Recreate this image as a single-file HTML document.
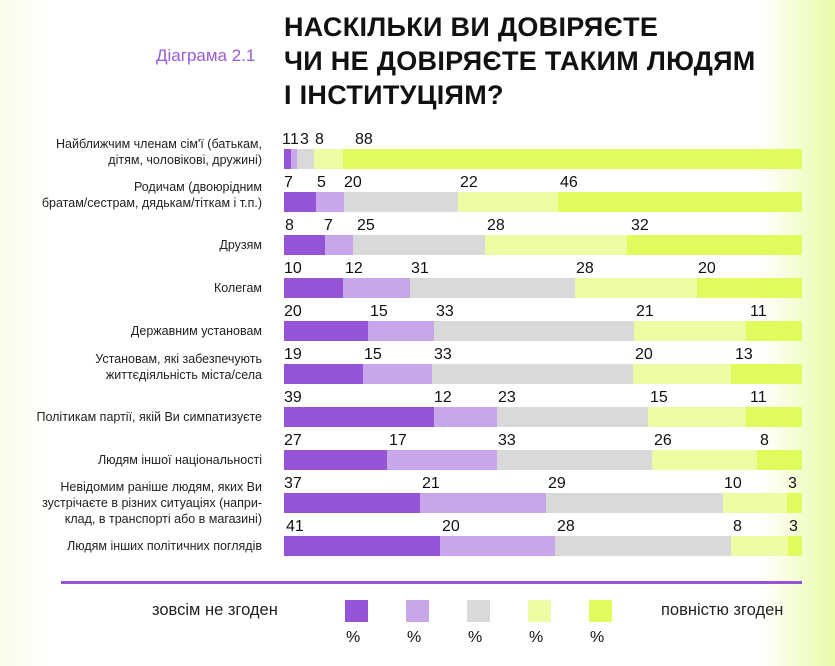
<!DOCTYPE html>
<html><head><meta charset="utf-8"><style>
*{margin:0;padding:0;box-sizing:border-box}
body{width:835px;height:666px;position:relative;overflow:hidden;font-family:"Liberation Sans","DejaVu Sans",sans-serif;
background:linear-gradient(90deg,#f9fce8 0px,#ffffff 50px,#ffffff 760px,#e9fca8 835px);}
.t{position:absolute;left:284px;font-weight:bold;font-size:27px;color:#111;line-height:34px;top:10px;letter-spacing:0.3px}
.d{position:absolute;left:156px;top:46px;font-size:17px;color:#9a5ad8}
.lab{position:absolute;right:573px;font-size:12.5px;color:#222;text-align:right;line-height:16px;white-space:nowrap}
.s{position:absolute;height:20px}
.n{position:absolute;font-size:16px;color:#111;line-height:16px}
.c1{background:#9553d7}.c2{background:#c7a6e9}.c3{background:#d9d9d9}.c4{background:#effba3}.c5{background:#dffb5c}
.sq{position:absolute;top:600px;width:23px;height:22px}
.p{position:absolute;top:629px;font-size:16px;color:#111}
</style></head><body>
<div class="d">Діаграма 2.1</div>
<div class="t">НАСКІЛЬКИ ВИ ДОВІРЯЄТЕ<br>ЧИ НЕ ДОВІРЯЄТЕ ТАКИМ ЛЮДЯМ<br>І ІНСТИТУЦІЯМ?</div>

<div class="lab" style="top:136px">Найближчим членам сім'ї (батькам,<br>дітям, чоловікові, дружині)</div>
<div class="lab" style="top:179px">Родичам (двоюрідним<br>братам/сестрам, дядькам/тіткам і т.п.)</div>
<div class="lab" style="top:237px">Друзям</div>
<div class="lab" style="top:280px">Колегам</div>
<div class="lab" style="top:323px">Державним установам</div>
<div class="lab" style="top:351px">Установам, які забезпечують<br>життєдіяльність міста/села</div>
<div class="lab" style="top:409px">Політикам партії, якій Ви симпатизуєте</div>
<div class="lab" style="top:452px">Людям іншої національності</div>
<div class="lab" style="top:479px">Невідомим раніше людям, яких Ви<br>зустрічаєте в різних ситуаціях (напри-<br>клад, в транспорті або в магазині)</div>
<div class="lab" style="top:538px">Людям інших політичних поглядів</div>

<div class="s c1" style="top:149px;left:284px;width:7px"></div><div class="s c2" style="top:149px;left:291px;width:6px"></div><div class="s c3" style="top:149px;left:297px;width:17px"></div><div class="s c4" style="top:149px;left:314px;width:29px"></div><div class="s c5" style="top:149px;left:343px;width:459px"></div>
<div class="n" style="top:132px;left:282px">1</div><div class="n" style="top:132px;left:290px">1</div><div class="n" style="top:132px;left:300px">3</div><div class="n" style="top:132px;left:315px">8</div><div class="n" style="top:132px;left:355px">88</div>

<div class="s c1" style="top:192px;left:284px;width:32px"></div><div class="s c2" style="top:192px;left:316px;width:28px"></div><div class="s c3" style="top:192px;left:344px;width:114px"></div><div class="s c4" style="top:192px;left:458px;width:100px"></div><div class="s c5" style="top:192px;left:558px;width:244px"></div>
<div class="n" style="top:175px;left:284px">7</div><div class="n" style="top:175px;left:317px">5</div><div class="n" style="top:175px;left:344px">20</div><div class="n" style="top:175px;left:460px">22</div><div class="n" style="top:175px;left:560px">46</div>

<div class="s c1" style="top:235px;left:284px;width:41px"></div><div class="s c2" style="top:235px;left:325px;width:28px"></div><div class="s c3" style="top:235px;left:353px;width:132px"></div><div class="s c4" style="top:235px;left:485px;width:142px"></div><div class="s c5" style="top:235px;left:627px;width:175px"></div>
<div class="n" style="top:218px;left:285px">8</div><div class="n" style="top:218px;left:324px">7</div><div class="n" style="top:218px;left:357px">25</div><div class="n" style="top:218px;left:487px">28</div><div class="n" style="top:218px;left:631px">32</div>

<div class="s c1" style="top:278px;left:284px;width:59px"></div><div class="s c2" style="top:278px;left:343px;width:67px"></div><div class="s c3" style="top:278px;left:410px;width:165px"></div><div class="s c4" style="top:278px;left:575px;width:122px"></div><div class="s c5" style="top:278px;left:697px;width:105px"></div>
<div class="n" style="top:261px;left:284px">10</div><div class="n" style="top:261px;left:345px">12</div><div class="n" style="top:261px;left:411px">31</div><div class="n" style="top:261px;left:576px">28</div><div class="n" style="top:261px;left:698px">20</div>

<div class="s c1" style="top:321px;left:284px;width:84px"></div><div class="s c2" style="top:321px;left:368px;width:66px"></div><div class="s c3" style="top:321px;left:434px;width:200px"></div><div class="s c4" style="top:321px;left:634px;width:112px"></div><div class="s c5" style="top:321px;left:746px;width:56px"></div>
<div class="n" style="top:304px;left:284px">20</div><div class="n" style="top:304px;left:370px">15</div><div class="n" style="top:304px;left:436px">33</div><div class="n" style="top:304px;left:636px">21</div><div class="n" style="top:304px;left:750px">11</div>

<div class="s c1" style="top:364px;left:284px;width:79px"></div><div class="s c2" style="top:364px;left:363px;width:69px"></div><div class="s c3" style="top:364px;left:432px;width:201px"></div><div class="s c4" style="top:364px;left:633px;width:98px"></div><div class="s c5" style="top:364px;left:731px;width:71px"></div>
<div class="n" style="top:347px;left:284px">19</div><div class="n" style="top:347px;left:364px">15</div><div class="n" style="top:347px;left:434px">33</div><div class="n" style="top:347px;left:635px">20</div><div class="n" style="top:347px;left:735px">13</div>

<div class="s c1" style="top:407px;left:284px;width:150px"></div><div class="s c2" style="top:407px;left:434px;width:63px"></div><div class="s c3" style="top:407px;left:497px;width:151px"></div><div class="s c4" style="top:407px;left:648px;width:98px"></div><div class="s c5" style="top:407px;left:746px;width:56px"></div>
<div class="n" style="top:390px;left:284px">39</div><div class="n" style="top:390px;left:434px">12</div><div class="n" style="top:390px;left:498px">23</div><div class="n" style="top:390px;left:650px">15</div><div class="n" style="top:390px;left:750px">11</div>

<div class="s c1" style="top:450px;left:284px;width:103px"></div><div class="s c2" style="top:450px;left:387px;width:110px"></div><div class="s c3" style="top:450px;left:497px;width:155px"></div><div class="s c4" style="top:450px;left:652px;width:105px"></div><div class="s c5" style="top:450px;left:757px;width:45px"></div>
<div class="n" style="top:433px;left:284px">27</div><div class="n" style="top:433px;left:389px">17</div><div class="n" style="top:433px;left:498px">33</div><div class="n" style="top:433px;left:654px">26</div><div class="n" style="top:433px;left:760px">8</div>

<div class="s c1" style="top:493px;left:284px;width:136px"></div><div class="s c2" style="top:493px;left:420px;width:126px"></div><div class="s c3" style="top:493px;left:546px;width:177px"></div><div class="s c4" style="top:493px;left:723px;width:64px"></div><div class="s c5" style="top:493px;left:787px;width:15px"></div>
<div class="n" style="top:476px;left:284px">37</div><div class="n" style="top:476px;left:422px">21</div><div class="n" style="top:476px;left:548px">29</div><div class="n" style="top:476px;left:724px">10</div><div class="n" style="top:476px;left:788px">3</div>

<div class="s c1" style="top:536px;left:284px;width:156px"></div><div class="s c2" style="top:536px;left:440px;width:115px"></div><div class="s c3" style="top:536px;left:555px;width:176px"></div><div class="s c4" style="top:536px;left:731px;width:57px"></div><div class="s c5" style="top:536px;left:788px;width:14px"></div>
<div class="n" style="top:519px;left:286px">41</div><div class="n" style="top:519px;left:442px">20</div><div class="n" style="top:519px;left:557px">28</div><div class="n" style="top:519px;left:733px">8</div><div class="n" style="top:519px;left:789px">3</div>

<div style="position:absolute;left:61px;top:581px;width:741px;height:3px;background:#9553d7"></div>

<div style="position:absolute;left:152px;top:601px;font-size:16.5px;color:#222">зовсім не згоден</div>
<div class="sq c1" style="left:345px"></div><div class="sq c2" style="left:406px"></div><div class="sq c3" style="left:467px"></div><div class="sq c4" style="left:528px"></div><div class="sq c5" style="left:589px"></div>
<div class="p" style="left:346px">%</div><div class="p" style="left:407px">%</div><div class="p" style="left:468px">%</div><div class="p" style="left:529px">%</div><div class="p" style="left:590px">%</div>
<div style="position:absolute;left:661px;top:601px;font-size:16.5px;color:#222">повністю згоден</div>
</body></html>
